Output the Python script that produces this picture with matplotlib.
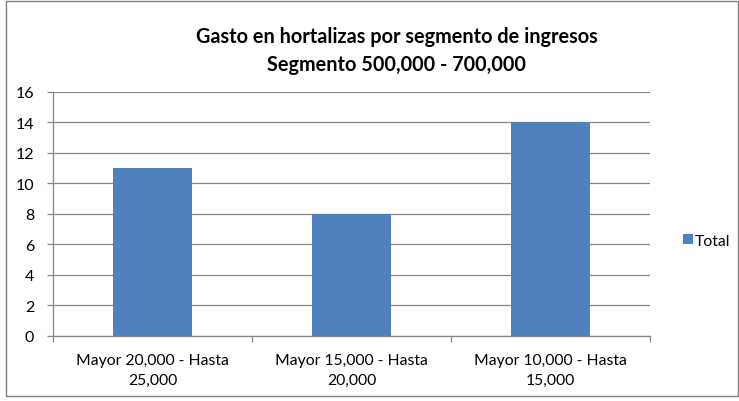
import matplotlib
matplotlib.use('Agg')
import matplotlib.pyplot as plt
from matplotlib.patches import Rectangle
import numpy as np

categories = ['Mayor 20,000 - Hasta\n25,000', 'Mayor 15,000 - Hasta\n20,000', 'Mayor 10,000 - Hasta\n15,000']
totals = [11, 8, 14]
title = 'Gasto en hortalizas por segmento de ingresos\nSegmento 500,000 - 700,000'

plt.rcParams['font.family'] = ['Lato', 'DejaVu Sans']
bar_color = '#4F81BD'
grid_color = '#868686'

fig = plt.figure(figsize=(7.39, 4.02), dpi=100)
fig.add_artist(Rectangle((0.008, 0.012), 0.99, 0.982, transform=fig.transFigure,
                         fill=False, edgecolor='#808080', linewidth=1.0))
ax = fig.add_axes([0.0717, 0.1617, 0.8078, 0.607])

x = np.arange(len(categories))
ax.bar(x, totals, width=0.4, color=bar_color, label='Total', zorder=3)

ax.set_xlim(-0.5, len(categories) - 0.5)
ax.set_ylim(0, 16)
ax.set_yticks(range(0, 17, 2))
ax.yaxis.grid(True, color=grid_color, linewidth=0.9, zorder=0)
ax.set_axisbelow(True)

# category labels centred, tick marks on the boundaries
ax.set_xticks(x)
ax.set_xticklabels(categories, fontsize=11.3, linespacing=1.5)
ax.tick_params(axis='x', length=0, pad=12.5)
ax.set_xticks(np.arange(-0.5, len(categories)), minor=True)
ax.tick_params(axis='x', which='minor', length=4.5, color=grid_color, width=0.9)
ax.tick_params(axis='y', length=4.5, color=grid_color, width=0.9, labelsize=11.5, pad=9)

for side in ['top', 'right']:
    ax.spines[side].set_visible(False)
for side in ['left', 'bottom']:
    ax.spines[side].set_color(grid_color)
    ax.spines[side].set_linewidth(0.9)

fig.text(0.537, 0.873, title, ha='center', va='center', fontsize=14.3,
         fontweight='bold', linespacing=1.45)

ax.legend(loc='center left', bbox_to_anchor=(1.056, 0.39), frameon=False,
          fontsize=11.3, handlelength=0.6, handleheight=0.6, handletextpad=0.15,
          borderpad=0, borderaxespad=0)

plt.savefig('out.png', dpi=100)
